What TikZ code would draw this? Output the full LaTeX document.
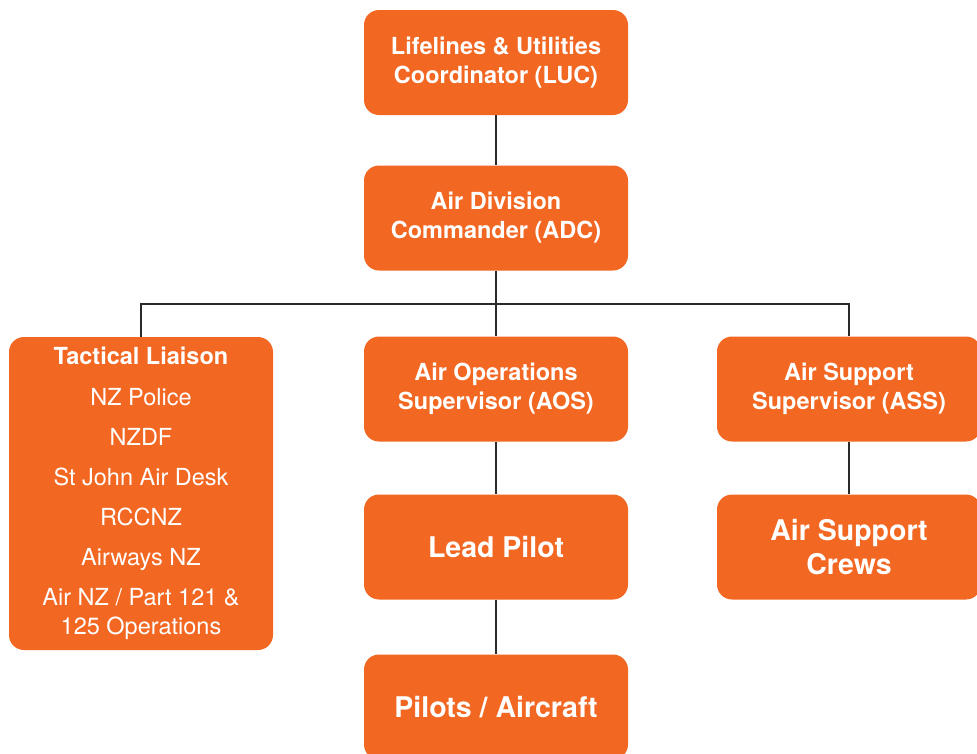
\documentclass[tikz,border=0pt]{standalone}
\usepackage{fontspec}
\setmainfont{TeX Gyre Heros}
\definecolor{boxorange}{HTML}{F26722}
\definecolor{linegray}{HTML}{2A2A2A}
\tikzset{
  orgbox/.style={draw=none, fill=boxorange, text=white, rounded corners=15pt,
    minimum width=264pt, minimum height=105pt, align=center, inner sep=0pt,
    font=\fontsize{23.5}{29}\selectfont\bfseries},
  bigbox/.style={orgbox, font=\fontsize{28.5}{34}\selectfont\bfseries},
  conn/.style={draw=linegray, line width=2pt}
}
\begin{document}
\begin{tikzpicture}[x=1pt,y=-1pt]
\useasboundingbox (0,0) rectangle (977,753);
\clip (0,0) rectangle (977,753);
\node[orgbox] (luc) at (496,62.5) {Lifelines \& Utilities\\Coordinator (LUC)};
\node[orgbox] (adc) at (496,218) {Air Division\\Commander (ADC)};
\node[orgbox, minimum height=313pt] (tl) at (141,493.5) {Tactical Liaison\\[12pt]
  \mdseries NZ Police\\[11pt]\mdseries NZDF\\[11pt]\mdseries St John Air Desk\\[11pt]\mdseries RCCNZ\\[11pt]\mdseries Airways NZ\\[11pt]\mdseries Air NZ / Part 121 \&\\\mdseries 125 Operations};
\node[orgbox] (aos) at (496,389) {Air Operations\\Supervisor (AOS)};
\node[orgbox] (ass) at (849,389) {Air Support\\Supervisor (ASS)};
\node[bigbox] (lead) at (496,547) {Lead Pilot};
\node[bigbox] (crews) at (849,547) {Air Support\\Crews};
\node[bigbox] (pilots) at (496,707) {Pilots / Aircraft};
\coordinate (bus) at (496,304);
\draw[conn] (luc.south) -- (adc.north);
\draw[conn] (adc.south) -- (bus);
\draw[conn] (tl.north) |- (bus) -| (ass.north);
\draw[conn] (bus) -- (aos.north);
\draw[conn] (aos.south) -- (lead.north);
\draw[conn] (lead.south) -- (pilots.north);
\draw[conn] (ass.south) -- (crews.north);
\end{tikzpicture}
\end{document}
